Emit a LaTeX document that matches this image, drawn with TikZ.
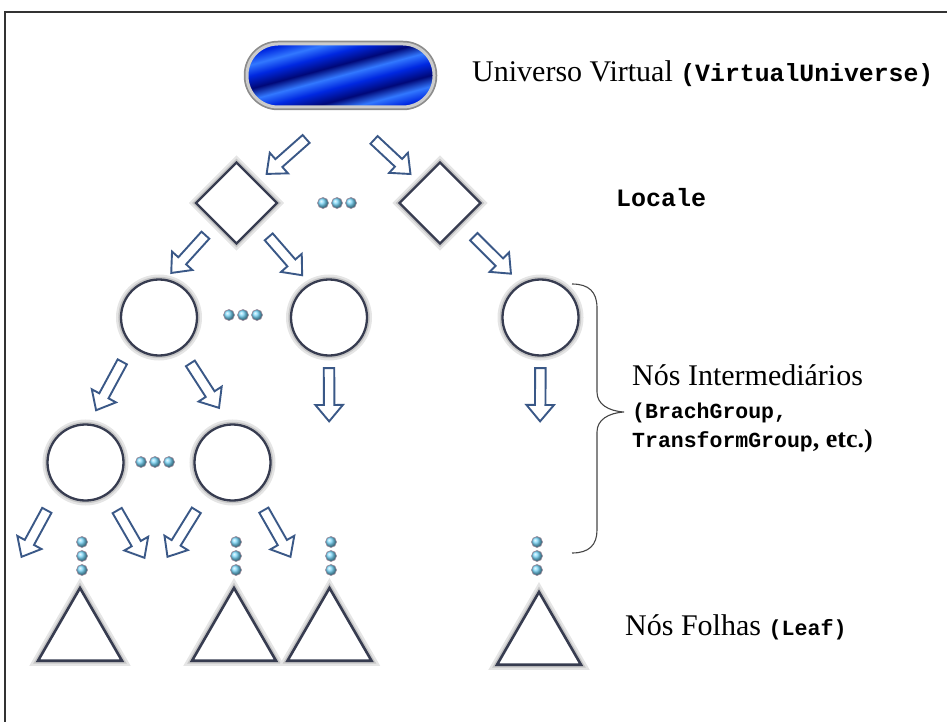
\documentclass[tikz,border=0pt]{standalone}
\usepackage{fontspec}
\setmainfont{Liberation Serif}
\setmonofont{Liberation Mono}
\usetikzlibrary{shapes.geometric,shapes.arrows,calc}

\definecolor{arrowblue}{RGB}{58,88,135}
\definecolor{shapeline}{RGB}{55,60,80}
\definecolor{pilldark}{RGB}{0,8,120}
\definecolor{pillmid}{RGB}{0,40,225}
\definecolor{pillbright}{RGB}{50,120,255}
\definecolor{dotblue}{RGB}{120,215,250}
\definecolor{bracegray}{RGB}{70,70,70}

\pgfdeclareverticalshading{pillblue}{100bp}{color(0bp)=(pilldark); color(25bp)=(pillmid);
  color(31bp)=(pillbright); color(37bp)=(pilldark); color(44bp)=(pillmid); color(50bp)=(pillbright);
  color(56bp)=(pilldark); color(63bp)=(pillmid); color(69bp)=(pillbright); color(75bp)=(pillmid);
  color(100bp)=(pillmid)}

\newcommand{\code}[1]{{\ttfamily\bfseries #1}}
% hollow block arrow from one node towards another, with gaps at both ends
\newcommand{\hollowarrow}[4]{%
  \path let \p1=($(#1)!#3!(#2)$), \p2=($(#2)!#4!(#1)$),
    \n1={veclen(\x2-\x1,\y2-\y1)} in
    (\p1) -- (\p2) node[blockarrow, at start, sloped, allow upside down,
      anchor=tail, minimum height=\n1] {};}
\newcommand{\dotrow}[1]{\foreach \i in {-1,0,1} \shadedraw[dotball] ($(#1)+(\i*14,0)$) circle (5.5);}
\newcommand{\dotcol}[1]{\foreach \i in {-1,0,1} \shadedraw[dotball] ($(#1)+(0,\i*14)$) circle (5.5);}

\begin{document}
\begin{tikzpicture}
[x=1pt, y=-1pt,
  shapebox/.style={draw=shapeline, line width=2.3pt, fill=white,
    preaction={draw=gray!20, line width=10pt},
    preaction={draw=gray!45, line width=5.5pt}},
  pillnode/.style={rectangle, rounded corners=31pt, minimum width=187, minimum height=63,
    inner sep=0pt, shading=pillblue, shading angle=15, draw=gray!40, line width=3pt,
    preaction={draw=black!45, line width=6.5pt}},
  localebox/.style={diamond, shapebox, minimum size=82, inner sep=0pt},
  groupnode/.style={circle, shapebox, minimum size=76, inner sep=0pt},
  leafnode/.style={regular polygon, regular polygon sides=3, shapebox, line width=2.6pt,
    minimum size=97, inner sep=0pt},
  blockarrow/.style={single arrow, draw=arrowblue, fill=white, line width=1.9pt,
    inner xsep=0pt, inner ysep=4.3pt, single arrow head extend=8.5pt,
    single arrow tip angle=80, single arrow head indent=0pt},
  dotball/.style={ball color=dotblue, draw=violet!30!black!45, line width=0.6pt},
  txt/.style={anchor=base west, inner sep=0pt},
  serif/.style={font=\fontsize{30}{36}\selectfont}]

\useasboundingbox (0,0) rectangle (947,722);
\draw[line width=1.5pt, black!80] (5,722) -- (5,12) -- (947,12);

\node[pillnode] (pill) at (340.5,75.5) {};
\node[localebox] (loc1) at (236.5,203) {};
\node[localebox] (loc2) at (440,203) {};
\node[groupnode] (g1) at (159,317.5) {};
\node[groupnode] (g2) at (329,317.5) {};
\node[groupnode] (g3) at (540.5,317.5) {};
\node[groupnode] (h1) at (85.5,462.5) {};
\node[groupnode] (h2) at (232.5,462.5) {};
\node[leafnode] (f1) at (80,636.5) {};
\node[leafnode] (f2) at (234,636.5) {};
\node[leafnode] (f3) at (329.5,636.5) {};
\node[leafnode] (f4) at (539,640.5) {};

\coordinate (h1l) at (22,556);
\coordinate (h1r) at (144,557);
\coordinate (h2l) at (168,556);
\coordinate (h2r) at (290,556);

\hollowarrow{pill.south}{loc1.45}{45pt}{13pt}
\hollowarrow{pill.south}{loc2.135}{45pt}{12.5pt}
\hollowarrow{loc1.225}{g1.80}{14pt}{9pt}
\hollowarrow{loc1.315}{g2.120}{16pt}{12pt}
\hollowarrow{loc2.315}{g3.120}{17pt}{15pt}
\hollowarrow{g1.225}{h1.85}{18pt}{16pt}
\hollowarrow{g1.305}{h2.95}{15.5pt}{19.5pt}
\hollowarrow{g2.south}{f3.north}{10.5pt}{165pt}
\hollowarrow{g3.south}{f4.north}{10.5pt}{169pt}
\hollowarrow{h1.225}{h1l}{22pt}{0pt}
\hollowarrow{h1.305}{h1r}{17.5pt}{0pt}
\hollowarrow{h2.230}{h2l}{20pt}{0pt}
\hollowarrow{h2.305}{h2r}{17pt}{0pt}

% elided siblings and descendants
\coordinate (etc1) at (337,203);
\coordinate (etc2) at (243,315);
\coordinate (etc3) at (155,462);
\dotrow{etc1} \dotrow{etc2} \dotrow{etc3}
\coordinate (etc4) at (82,556);
\coordinate (etc5) at (236,556);
\coordinate (etc6) at (331,556);
\coordinate (etc7) at (537,556);
\dotcol{etc4} \dotcol{etc5} \dotcol{etc6} \dotcol{etc7}

\draw[bracegray, line width=1.1pt] (572,284) .. controls (589,284) and (597,292) .. (597,308)
  -- (597,392) .. controls (597,404) and (608,411) .. (624,412)
  .. controls (608,413) and (597,420) .. (597,432)
  -- (597,530) .. controls (597,545) and (589,553) .. (572,553);

\node[txt, serif] (univ) at (472,82) {Universo Virtual {\fontsize{24.8}{30}\selectfont\code{(VirtualUniverse)}}};
\node[txt] (locale) at (616,207) {\fontsize{25}{30}\selectfont\code{Locale}};
\node[txt, serif] (inter) at (632,385) {Nós Intermediários};
\node[txt] (inter2) at (632,418) {\fontsize{21.5}{26}\selectfont\code{(BrachGroup,}};
\node[txt] (inter3) at (632,447) {\fontsize{21.5}{26}\selectfont\code{TransformGroup}{\fontsize{26}{30}\selectfont\bfseries, etc.)}};
\node[txt, serif] (leaves) at (625,635) {Nós Folhas {\fontsize{21.7}{26}\selectfont\code{(Leaf)}}};
\end{tikzpicture}
\end{document}
